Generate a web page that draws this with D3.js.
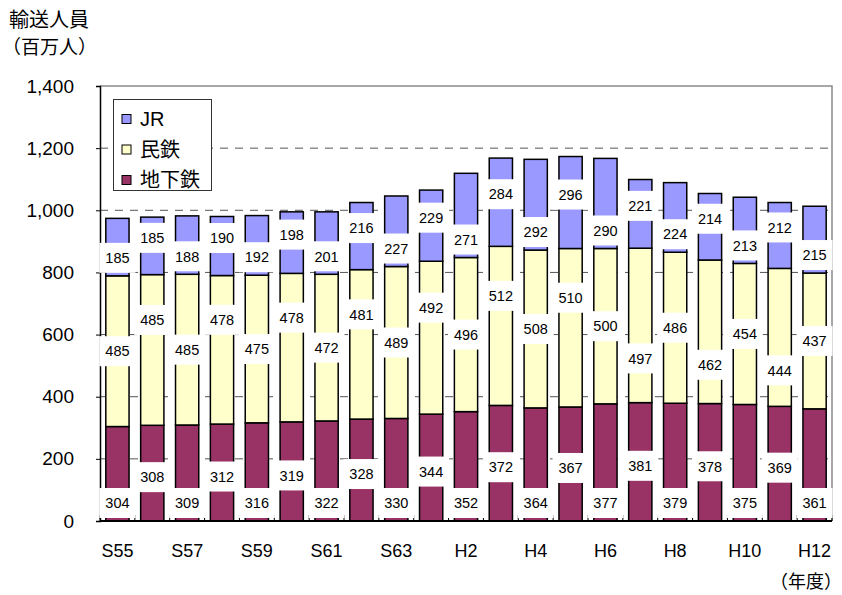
<!DOCTYPE html>
<html>
<head>
<meta charset="utf-8">
<script src="https://cdn.jsdelivr.net/npm/d3@7"></script>
<style>
  html, body { margin: 0; padding: 0; background: #fff; }
  svg { display: block; }
  .cjk { font-family: "Noto Sans CJK JP", "Noto Sans CJK SC", sans-serif; }
  .lat { font-family: "Liberation Sans", Arial, sans-serif; }
</style>
</head>
<body>
<svg id="chart" width="842" height="595"></svg>
<script>
// Fiscal years (Showa 55 to Heisei 12)
const years = ["S55","S56","S57","S58","S59","S60","S61","S62","S63",
               "H1","H2","H3","H4","H5","H6","H7","H8","H9","H10","H11","H12"];
// Passengers carried, millions
const subway = [304,308,309,312,316,319,322,328,330,344,352,372,364,367,377,381,379,378,375,369,361];
const privateRail = [485,485,485,478,475,478,472,481,489,492,496,512,508,510,500,497,486,462,454,444,437];
const jr = [185,185,188,190,192,198,201,216,227,229,271,284,292,296,290,221,224,214,213,212,215];
// Axis ticks
const yTicks = [0,200,400,600,800,1000,1200,1400];
const xTickLabels = ["S55","S57","S59","S61","S63","H2","H4","H6","H8","H10","H12"];

const seriesNames = ["JR", "民鉄", "地下鉄"];
const colors = { "地下鉄": "#993366", "民鉄": "#FFFFCC", "JR": "#9999FF" };

const svg = d3.select("#chart");
const plotL = 100, plotR = 832, plotT = 86, plotB = 521;

const x = d3.scaleBand().domain(years).range([plotL, plotR])
  .paddingInner(1/3).paddingOuter(1/6);
const y = d3.scaleLinear().domain([0, 1400]).range([plotB, plotT]);

// stacked layout: subway at the base, then private railways, then JR
const rows = years.map((yr, i) => ({ year: yr, "地下鉄": subway[i], "民鉄": privateRail[i], "JR": jr[i] }));
const stack = d3.stack().keys(["地下鉄", "民鉄", "JR"])(rows);

// dashed gridlines
svg.append("g").selectAll("line")
  .data(yTicks.filter(t => t > 0 && t < 1400))
  .join("line")
  .attr("x1", plotL).attr("x2", plotR)
  .attr("y1", d => y(d)).attr("y2", d => y(d))
  .attr("stroke", "#555").attr("stroke-width", 1)
  .attr("stroke-dasharray", "8,7");

// plot frame (top and right)
svg.append("path")
  .attr("d", `M${plotL},${plotT}H${plotR}V${plotB}`)
  .attr("fill", "none").attr("stroke", "#8a8a8a").attr("stroke-width", 1.5);

// bars
svg.append("g").selectAll("g")
  .data(stack).join("g")
  .attr("fill", d => colors[d.key])
  .selectAll("rect")
  .data(d => d).join("rect")
  .attr("x", d => x(d.data.year))
  .attr("width", x.bandwidth())
  .attr("y", d => y(d[1]))
  .attr("height", d => y(d[0]) - y(d[1]))
  .attr("stroke", "#000").attr("stroke-width", 1.5);

// y axis
const yAxis = d3.axisLeft(y).tickValues(yTicks).tickSize(4).tickPadding(22)
  .tickFormat(d3.format(","));
const gy = svg.append("g").attr("transform", `translate(${plotL},0)`).call(yAxis);
gy.select(".domain").attr("stroke", "#000").attr("stroke-width", 1.5);
gy.selectAll(".tick line").attr("stroke", "#000");
gy.selectAll(".tick text").attr("class", "lat").attr("font-size", 19).attr("fill", "#000");

// x axis: category boundary ticks pointing up, labels on every other year
const step = x.step();
const boundaries = d3.range(years.length + 1).map(i => plotL + i * step);
svg.append("g").selectAll("line").data(boundaries).join("line")
  .attr("x1", d => d).attr("x2", d => d)
  .attr("y1", plotB).attr("y2", plotB - 6)
  .attr("stroke", "#000").attr("stroke-width", 1);
svg.append("line")
  .attr("x1", plotL).attr("x2", plotR).attr("y1", plotB).attr("y2", plotB)
  .attr("stroke", "#000").attr("stroke-width", 2);
svg.append("g").selectAll("text").data(xTickLabels).join("text")
  .attr("class", "lat")
  .attr("x", d => x(d) + x.bandwidth() / 2)
  .attr("y", 557)
  .attr("text-anchor", "middle")
  .attr("font-size", 18)
  .attr("fill", "#000")
  .text(d => d);

// data labels with white boxes
function labelY(key, i) {
  const s = subway[i], p = privateRail[i], j = jr[i];
  const even = i % 2 === 0;
  if (key === "地下鉄") return even ? y(0) - 18 : y(s / 2) + 4;
  if (key === "民鉄") {
    const c = y(s + p / 2);
    if (even) return c;
    return i < 15 ? c - 30 : c + 33;
  }
  return even ? y(s + p) - 18 : y(s + p + j / 2) - 8;
}
const labels = [];
["地下鉄", "民鉄", "JR"].forEach(key => {
  const vals = key === "地下鉄" ? subway : key === "民鉄" ? privateRail : jr;
  vals.forEach((v, i) => labels.push({ key, i, v }));
});
const lg = svg.append("g").selectAll("g").data(labels).join("g")
  .attr("transform", d => `translate(${x(years[d.i]) + x.bandwidth() / 2},${labelY(d.key, d.i)})`);
lg.append("rect")
  .attr("x", -18).attr("y", -15).attr("width", 36).attr("height", 30)
  .attr("fill", "#fff");
lg.append("text")
  .attr("class", "lat")
  .attr("text-anchor", "middle")
  .attr("dy", "0.36em")
  .attr("font-size", 14.5)
  .attr("fill", "#000")
  .text(d => d.v);

// legend
const legend = svg.append("g");
legend.append("rect")
  .attr("x", 113.5).attr("y", 99.5).attr("width", 98).attr("height", 91)
  .attr("fill", "#fff").attr("stroke", "#333").attr("stroke-width", 1);
const li = legend.selectAll("g.item").data(seriesNames).join("g")
  .attr("class", "item")
  .attr("transform", (d, k) => `translate(0,${119 + k * 30.5})`);
li.append("rect")
  .attr("x", 122).attr("y", -4.5).attr("width", 9).attr("height", 9)
  .attr("fill", d => colors[d]).attr("stroke", "#000").attr("stroke-width", 1);
li.append("text")
  .attr("class", d => d === "JR" ? "lat" : "cjk")
  .attr("x", 140).attr("dy", "0.36em")
  .attr("font-size", 20).attr("fill", "#000")
  .text(d => d);

// axis titles
svg.append("text").attr("class", "cjk")
  .attr("x", 9).attr("y", 20).attr("dy", "0.36em")
  .attr("font-size", 20).attr("fill", "#000")
  .text("輸送人員");
svg.append("text").attr("class", "cjk")
  .attr("x", 2).attr("y", 47).attr("dy", "0.36em")
  .attr("font-size", 19).attr("fill", "#000")
  .text("（百万人）");
svg.append("text").attr("class", "cjk")
  .attr("x", 842).attr("y", 582).attr("dy", "0.36em")
  .attr("text-anchor", "end")
  .attr("font-size", 18).attr("fill", "#000")
  .text("（年度）");
</script>
</body>
</html>
